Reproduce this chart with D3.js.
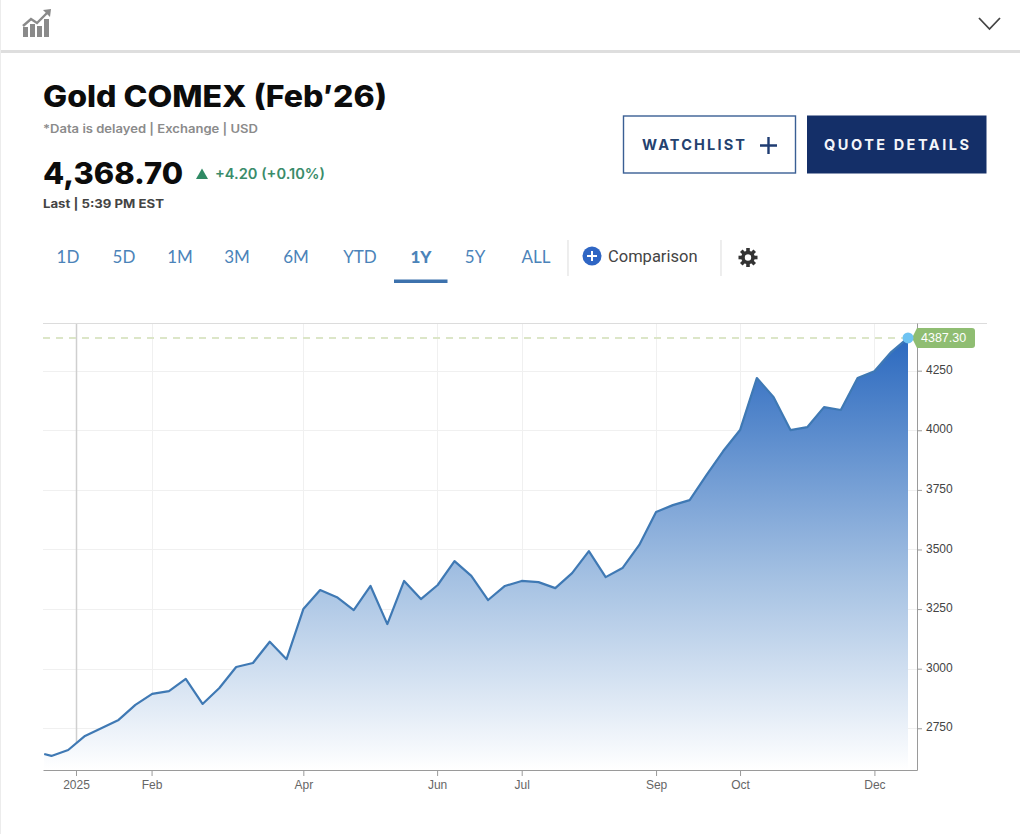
<!DOCTYPE html>
<html>
<head>
<meta charset="utf-8">
<script src="https://cdn.jsdelivr.net/npm/d3@7"></script>
<style>
  html, body { margin: 0; padding: 0; background: #fff; overflow: hidden; }
  svg { display: block; }
  .head { font-family: Inter, "Noto Sans", sans-serif; }
  .tab { font-family: Lato, "Noto Sans", sans-serif; }
  .tick text { font-family: "Liberation Sans", Arial, sans-serif; font-size: 12px; }
</style>
</head>
<body>
<svg id="canvas" width="1020" height="834"></svg>
<script>
// weekly closes
const dates = ["2024-12-19","2024-12-22","2024-12-29","2025-01-05","2025-01-12","2025-01-19","2025-01-26",
  "2025-02-02","2025-02-09","2025-02-16","2025-02-23","2025-03-02","2025-03-09","2025-03-16","2025-03-23","2025-03-30",
  "2025-04-06","2025-04-13","2025-04-20","2025-04-27","2025-05-04","2025-05-11","2025-05-18","2025-05-25",
  "2025-06-01","2025-06-08","2025-06-15","2025-06-22","2025-06-29","2025-07-06","2025-07-13","2025-07-20","2025-07-27",
  "2025-08-03","2025-08-10","2025-08-17","2025-08-24","2025-08-31","2025-09-07","2025-09-14","2025-09-21","2025-09-28",
  "2025-10-05","2025-10-12","2025-10-19","2025-10-26","2025-11-02","2025-11-09","2025-11-16","2025-11-23","2025-11-30",
  "2025-12-07","2025-12-14"];
const closes = [2642,2634,2659,2718,2751,2785,2848,
  2894,2906,2957,2852,2919,3007,3024,3113,3040,
  3250,3330,3300,3246,3347,3187,3368,3292,
  3351,3451,3389,3288,3347,3368,3363,3338,3401,
  3493,3384,3422,3519,3657,3686,3707,3812,3913,
  4001,4219,4139,4001,4013,4097,4085,4219,4248,
  4328,4387.3];
const xTickDates = ["2025-01-01T06:00","2025-02-01T18:00","2025-04-06","2025-05-31T18:00","2025-07-06","2025-08-31","2025-10-05","2025-11-30"];
const xTickLabels = ["2025","Feb","Apr","Jun","Jul","Sep","Oct","Dec"];
const yTicks = [2750,3000,3250,3500,3750,4000,4250];
const tabs = ["1D","5D","1M","3M","6M","YTD","1Y","5Y","ALL"];
const lastPrice = 4387.30;

const parse = s => new Date(s.length > 10 ? s + "Z" : s + "T00:00Z");
const points = dates.map((d, i) => ({date: parse(d), close: closes[i]}));

let svg = d3.select("#canvas");

// ---- page furniture ----
svg.append("rect").attr("x", 0).attr("y", 50).attr("width", 1020).attr("height", 3).attr("fill", "#dedede");
svg.append("rect").attr("x", 0).attr("y", 0).attr("width", 1).attr("height", 834).attr("fill", "#ececec");

// header icon
let icon = svg.append("g").attr("fill", "#8a8a8a");
[[23,27,5,10],[30,24,5,13],[37,26,5,11],[44,19,5,18]].forEach(r => {
  icon.append("rect").attr("x", r[0]).attr("y", r[1]).attr("width", r[2]).attr("height", r[3]);
});
svg.append("path").attr("d", "M23,26 L31,19 L37,23 L49,11").attr("fill", "none").attr("stroke", "#8a8a8a").attr("stroke-width", 2.4);
svg.append("path").attr("d", "M43,10 L51,9 L50,17 Z").attr("fill", "#8a8a8a");
svg.append("path").attr("d", "M979,18 L989.5,29 L1000,18").attr("fill", "none").attr("stroke", "#444").attr("stroke-width", 1.8);

const addText = (txt, x, y, size, weight, fill, extra) => {
  let t = svg.append("text").attr("class", "head").attr("x", x).attr("y", y)
    .attr("font-size", size).attr("font-weight", weight).attr("fill", fill).text(txt);
  if (extra) Object.keys(extra).forEach(k => t.attr(k, extra[k]));
  return t;
};
const squeeze = w => ({textLength: w, lengthAdjust: "spacingAndGlyphs"});

addText("Gold COMEX (Feb\u203226)", 43, 107, 30, 800, "#0c0c0c", squeeze(344));
addText("*Data is delayed | Exchange | USD", 43, 133, 11.5, 600, "#8b8b8b", squeeze(215));
addText("4,368.70", 43, 184, 30, 800, "#0c0c0c", squeeze(140));
svg.append("path").attr("d", "M196,179 L202,168.5 L208,179 Z").attr("fill", "#2f8a64");
addText("+4.20 (+0.10%)", 215, 179, 14, 600, "#3a8c6a", squeeze(110));
addText("Last | 5:39 PM EST", 43, 208, 11.5, 700, "#444", squeeze(121));

// buttons
svg.append("rect").attr("x", 623.5).attr("y", 116).attr("width", 172).attr("height", 57)
  .attr("fill", "#fff").attr("stroke", "#3a5f94").attr("stroke-width", 1.4);
addText("WATCHLIST", 642, 150, 14.5, 700, "#24426f", {textLength: 103});
svg.append("path").attr("d", "M760,145.5 H777 M768.5,137 V154").attr("stroke", "#1f3c72").attr("stroke-width", 2.4);
svg.append("rect").attr("x", 807).attr("y", 115.5).attr("width", 179.5).attr("height", 58).attr("fill", "#142f68");
addText("QUOTE DETAILS", 824, 150, 14.5, 700, "#f4f6fa", {textLength: 145});

// range tabs
svg.selectAll(".tab").data(tabs).enter().append("text")
  .attr("class", "tab")
  .attr("x", (d, i) => [68,124,180,237,296,360,421,475,536][i])
  .attr("y", 263).attr("text-anchor", "middle")
  .attr("font-size", 17).attr("font-weight", d => d === "1Y" ? 900 : 400)
  .attr("fill", "#4b83b9").text(d => d);
svg.append("rect").attr("x", 394).attr("y", 279.5).attr("width", 53.5).attr("height", 3.5).attr("fill", "#3d72ad");
[568, 721].forEach(x => {
  svg.append("line").attr("x1", x).attr("x2", x).attr("y1", 240).attr("y2", 276).attr("stroke", "#e2e2e2").attr("stroke-width", 1.2);
});
svg.append("circle").attr("cx", 592).attr("cy", 256).attr("r", 9.5).attr("fill", "#2f66c4");
svg.append("path").attr("d", "M587,256 H597 M592,251 V261").attr("stroke", "#fff").attr("stroke-width", 2);
svg.append("text").attr("x", 608).attr("y", 261.5).attr("font-family", "Roboto, sans-serif").attr("font-size", 16.5)
  .attr("fill", "#444").text("Comparison");

// settings gear
let gear = svg.append("g").attr("transform", "translate(748,257.5)").attr("fill", "#333");
d3.range(8).forEach(i => {
  gear.append("rect").attr("x", -1.8).attr("y", -9.5).attr("width", 3.6).attr("height", 5).attr("transform", `rotate(${i * 45})`);
});
gear.append("circle").attr("r", 5).attr("fill", "none").attr("stroke", "#333").attr("stroke-width", 3.6);

// ---- chart ----
const x = d3.scaleUtc()
  .domain([parse("2024-12-18T12:00"), parse("2025-12-17T18:00")])
  .range([43, 917]);
const y = d3.scaleLinear().domain([2575, 4450]).range([770, 323]);

let defs = svg.append("defs");
let grad = defs.append("linearGradient").attr("id", "fillGrad")
  .attr("gradientUnits", "userSpaceOnUse")
  .attr("x1", 0).attr("x2", 0).attr("y1", y(lastPrice)).attr("y2", y.range()[0]);
grad.append("stop").attr("offset", "0%").attr("stop-color", "#2b69bf");
grad.append("stop").attr("offset", "55%").attr("stop-color", "#a3c0e2");
grad.append("stop").attr("offset", "100%").attr("stop-color", "#ffffff");

// grid
let grid = svg.append("g");
grid.selectAll(".gy").data(yTicks).enter().append("line")
  .attr("x1", 43).attr("x2", 917).attr("y1", d => Math.round(y(d)) + .5).attr("y2", d => Math.round(y(d)) + .5)
  .attr("stroke", "#f0f0f0");
grid.selectAll(".gx").data(xTickDates).enter().append("line")
  .attr("x1", d => Math.round(x(parse(d))) + .5).attr("x2", d => Math.round(x(parse(d))) + .5)
  .attr("y1", 323).attr("y2", 770)
  .attr("stroke", (d, i) => i === 0 ? "#cfcfcf" : "#f0f0f0")
  .attr("stroke-width", (d, i) => i === 0 ? 1.5 : 1);
svg.append("line").attr("x1", 43).attr("x2", 987).attr("y1", 323.5).attr("y2", 323.5).attr("stroke", "#dcdcdc");

// last price dashed line
svg.append("line").attr("x1", 43).attr("x2", x(points[points.length - 1].date))
  .attr("y1", y(lastPrice)).attr("y2", y(lastPrice))
  .attr("stroke", "#dce6c8").attr("stroke-width", 2).attr("stroke-dasharray", "7,6");

const area = d3.area().x(d => x(d.date)).y0(y.range()[0]).y1(d => y(d.close));
const line = d3.line().x(d => x(d.date)).y(d => y(d.close));
svg.append("path").datum(points).attr("d", area).attr("fill", "url(#fillGrad)");
svg.append("path").datum(points).attr("d", line).attr("fill", "none")
  .attr("stroke", "#3f79b4").attr("stroke-width", 2.2).attr("stroke-linejoin", "round");

// axes
let xAxis = d3.axisBottom(x).tickValues(xTickDates.map(parse))
  .tickFormat((d, i) => xTickLabels[i]).tickSize(6).tickSizeOuter(0).tickPadding(4);
let gx = svg.append("g").attr("transform", "translate(0,770)").call(xAxis);
let yAxis = d3.axisRight(y).tickValues(yTicks).tickFormat(d3.format("d")).tickSize(5).tickSizeOuter(0).tickPadding(4);
let gy = svg.append("g").attr("transform", "translate(917,0)").call(yAxis);
gx.selectAll("path,line").attr("stroke", "#9a9a9a");
gx.selectAll("text").attr("fill", "#666");
gy.selectAll("path,line").attr("stroke", "#9a9a9a");
gy.selectAll("text").attr("fill", "#444").attr("dy", "0.22em");

// last price marker and badge
const lx = x(points[points.length - 1].date), ly = y(lastPrice);
svg.append("path")
  .attr("d", `M${lx + 4},${ly} L917,${ly - 10} H972 Q975,${ly - 10} 975,${ly - 7} V${ly + 7} Q975,${ly + 10} 972,${ly + 10} H917 Z`)
  .attr("fill", "#8fbd72");
svg.append("text").attr("x", 921).attr("y", ly + 4.5).attr("font-family", "'Liberation Sans', Arial, sans-serif")
  .attr("font-size", 12.5).attr("fill", "#fff").text(d3.format(".2f")(lastPrice));
svg.append("circle").attr("cx", lx).attr("cy", ly).attr("r", 5.5).attr("fill", "#6fc3f2");
</script>
</body>
</html>
